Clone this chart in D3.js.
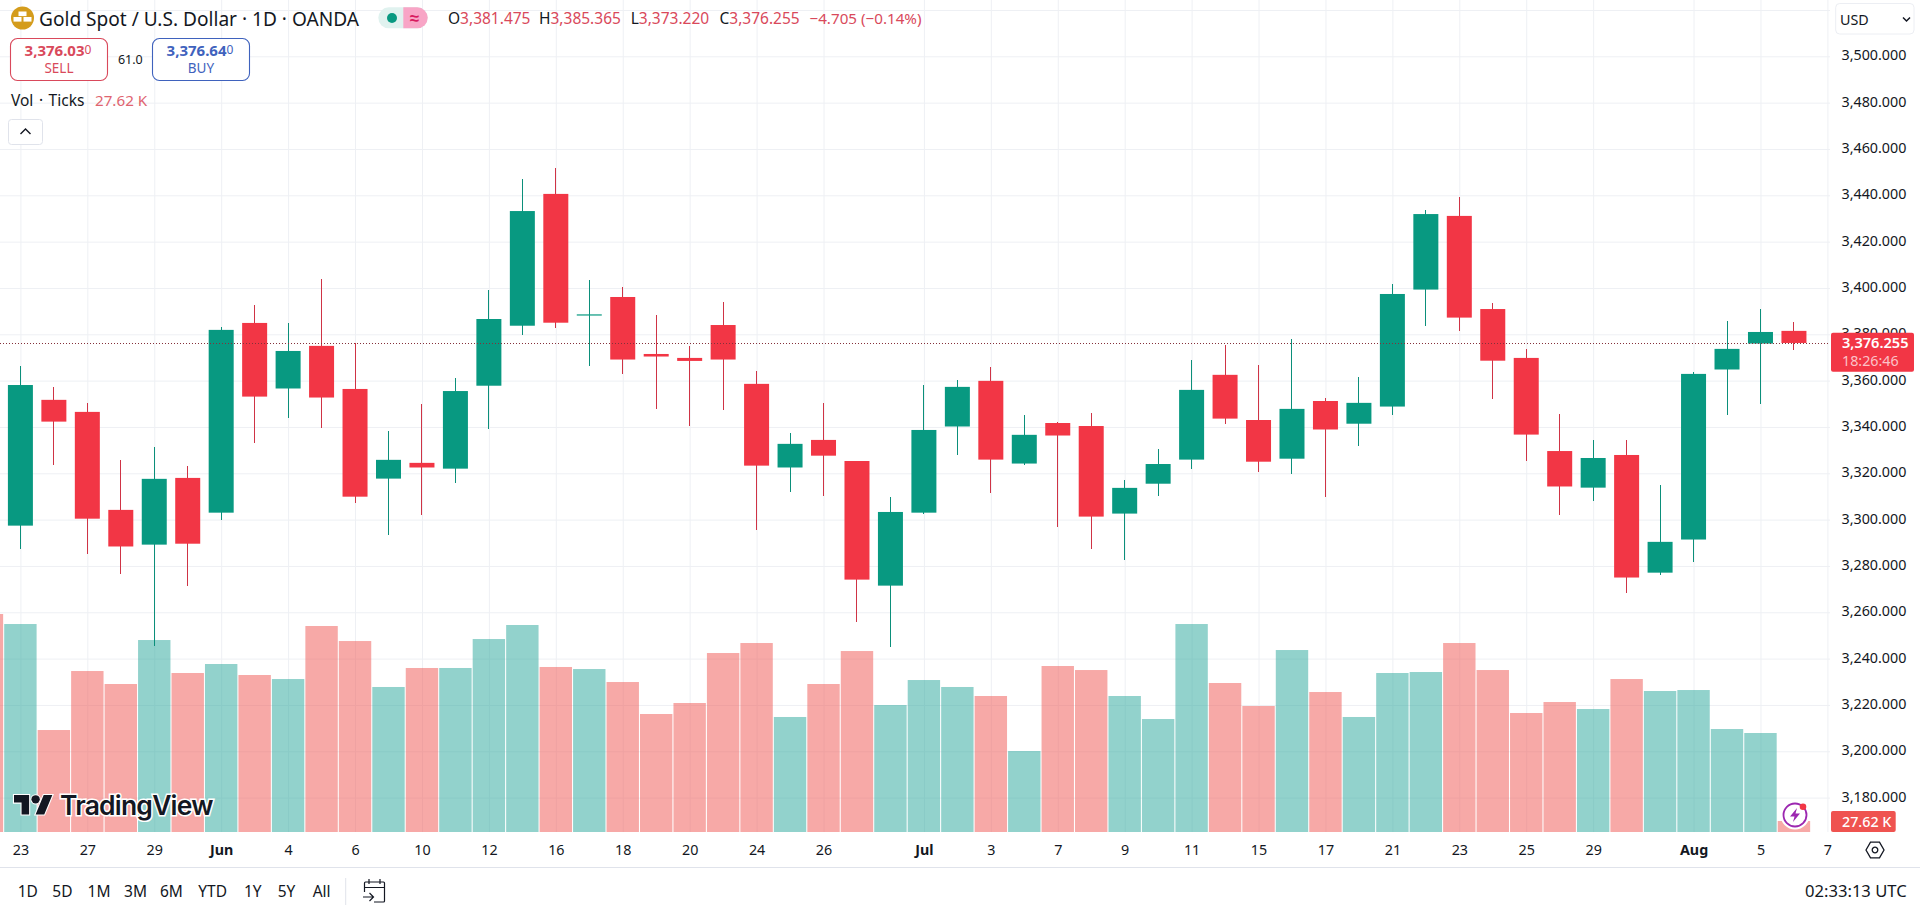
<!DOCTYPE html>
<html>
<head>
<meta charset="utf-8">
<title>Gold Spot / U.S. Dollar</title>
<script src="https://cdn.jsdelivr.net/npm/d3@7/dist/d3.min.js"></script>
<style>
html,body{margin:0;padding:0;background:#fff;overflow:hidden}
svg{display:block}
text{font-family:"Noto Sans",sans-serif;fill:#131722}
</style>
</head>
<body>
<script>
const sessions = ["05-22","05-23","05-26","05-27","05-28","05-29","05-30","06-02","06-03","06-04","06-05","06-06","06-09","06-10","06-11","06-12","06-13","06-16","06-17","06-18","06-19","06-20","06-23","06-24","06-25","06-26","06-27","06-30","07-01","07-02","07-03","07-04","07-07","07-08","07-09","07-10","07-11","07-14","07-15","07-16","07-17","07-18","07-21","07-22","07-23","07-24","07-25","07-28","07-29","07-30","07-31","08-01","08-04","08-05","08-06","08-07"];
const tickDates = ["05-23","05-27","05-29","06-02","06-04","06-06","06-10","06-12","06-16","06-18","06-20","06-24","06-26","07-01","07-03","07-07","07-09","07-11","07-15","07-17","07-21","07-23","07-25","07-29","08-01","08-05","08-07"];
const tickLabels = ["23","27","29","Jun","4","6","10","12","16","18","20","24","26","Jul","3","7","9","11","15","17","21","23","25","29","Aug","5","7"];
const priceTicks = [3180,3200,3220,3240,3260,3280,3300,3320,3340,3360,3380,3400,3420,3440,3460,3480,3500];
const priceGrid = priceTicks.concat([3520]);

const opens = [3297.4,3351.7,3346.5,3304.2,3289.2,3318.0,3303.0,3384.9,3356.6,3375.0,3356.4,3317.7,3324.5,3322.0,3357.8,3383.7,3440.6,3388.2,3396.1,3371.5,3369.8,3384.0,3358.6,3322.5,3334.4,3325.3,3271.5,3303.0,3340.2,3359.9,3324.2,3341.7,3340.4,3302.6,3315.5,3325.9,3362.5,3343.0,3326.3,3351.2,3341.4,3348.8,3399.3,3431.1,3390.9,3369.8,3329.6,3313.8,3327.9,3277.1,3291.4,3364.8,3376.0,3381.475];
const highs = [3366.3,3357.3,3350.4,3325.8,3331.4,3323.2,3383.2,3392.7,3384.9,3403.9,3376.3,3338.3,3349.8,3361.2,3399.1,3447.1,3451.8,3403.5,3400.4,3388.4,3375.0,3394.0,3364.2,3337.4,3350.4,3325.3,3309.8,3358.1,3360.3,3365.9,3345.2,3342.2,3346.1,3317.1,3330.5,3368.9,3375.4,3366.8,3378.0,3352.5,3361.6,3401.7,3433.7,3439.3,3393.5,3373.7,3345.6,3334.4,3334.4,3315.0,3363.7,3385.8,3390.9,3385.365];
const lows = [3287.5,3323.6,3285.3,3276.7,3245.6,3271.5,3300.0,3333.1,3344.0,3339.7,3307.3,3293.5,3302.2,3316.0,3338.9,3379.9,3382.9,3366.5,3363.0,3347.9,3340.4,3347.5,3295.7,3312.1,3310.4,3256.0,3244.8,3302.6,3328.1,3311.7,3323.7,3296.6,3287.5,3282.7,3310.4,3322.0,3341.4,3320.7,3319.9,3309.9,3331.9,3345.3,3383.7,3381.6,3351.9,3325.5,3302.2,3308.2,3268.5,3276.3,3281.9,3345.3,3350.1,3373.22];
const closes = [3358.1,3342.3,3300.4,3288.4,3317.6,3289.6,3381.9,3353.1,3372.8,3352.7,3309.9,3325.8,3322.5,3355.5,3386.6,3433.2,3385.0,3388.6,3369.1,3370.4,3368.5,3369.1,3323.3,3332.7,3327.6,3274.1,3303.3,3338.7,3357.3,3325.9,3336.6,3336.3,3301.3,3313.7,3324.0,3356.0,3343.6,3325.0,3347.8,3338.9,3350.4,3397.4,3431.9,3387.2,3368.6,3336.7,3314.3,3326.6,3275.0,3290.4,3362.9,3373.7,3381.0,3376.255];
// Volume (thousand ticks); first entry belongs to the session cut off at the left edge.
const volumes = [547.2,522.1,256.0,404.1,371.5,481.9,399.1,421.7,394.1,384.0,517.1,479.4,364.0,411.7,411.7,484.4,519.6,414.2,409.1,376.5,296.2,323.8,449.3,474.4,288.7,371.5,454.3,318.8,381.5,364.0,341.4,203.3,416.7,406.6,341.4,283.6,522.1,374.0,316.3,456.8,351.4,288.7,399.1,401.6,474.4,406.6,298.7,326.3,308.7,384.0,353.9,356.4,258.5,248.5,27.62];
const lastPrice = 3376.255;
const lastVolume = 27.62;
const rangeButtons = ["1D","5D","1M","3M","6M","YTD","1Y","5Y","All"];
const rangeCenters = [27.8,62.4,99,135.5,171.4,212.7,252.7,286.5,321.6];

const W = 1920, H = 912, paneRight = 1830, paneBottom = 832;
const UP = "#089981", DOWN = "#F23645", UPWICK = "#0b8f7a", DOWNWICK = "#cf3345", VUP = "rgba(38,166,154,0.5)", VDOWN = "rgba(239,83,80,0.5)", GRID = "#eef0f4";

const x = d3.scalePoint().domain(sessions).range([-13.06, 1827.4]);
const y = d3.scaleLinear().domain([3180, 3500]).range([797.6, 56.3]);
const yVol = d3.scaleLinear().domain([0, 550]).range([paneBottom, paneBottom - 219.1]);

const svg = d3.select("body").append("svg").attr("width", W).attr("height", H).attr("viewBox", `0 0 ${W} ${H}`);
svg.append("defs").append("clipPath").attr("id", "pane").append("rect").attr("width", paneRight).attr("height", paneBottom);

// Grid drawn with axes
const gridH = svg.append("g").attr("transform", `translate(${paneRight},0)`)
  .call(d3.axisLeft(y).tickValues(priceGrid).tickSize(paneRight).tickFormat(""));
const gridV = svg.append("g").attr("transform", `translate(0,${paneBottom})`)
  .call(d3.axisBottom(x).tickValues(tickDates).tickSize(-paneBottom).tickFormat(""));
[gridH, gridV].forEach(g => { g.select(".domain").remove(); g.selectAll("line").attr("stroke", GRID).attr("stroke-width", 1); });

const pane = svg.append("g").attr("clip-path", "url(#pane)");

// Volume
const barW = 32.4;
pane.append("g").selectAll("rect").data(volumes).join("rect")
  .attr("x", (d, i) => x(sessions[i]) - barW / 2)
  .attr("width", barW)
  .attr("y", d => yVol(d))
  .attr("height", d => paneBottom - yVol(d))
  .attr("fill", (d, i) => (i > 0 && closes[i - 1] >= opens[i - 1]) ? VUP : VDOWN);

// Candles
const candles = opens.map((o, i) => ({ s: sessions[i + 1], o, h: highs[i], l: lows[i], c: closes[i] }));
const bodyW = 25;
const cg = pane.append("g").selectAll("g").data(candles).join("g")
  .attr("fill", d => d.c >= d.o ? UP : DOWN);
cg.append("rect").attr("x", d => Math.round(x(d.s) - 0.5)).attr("width", 1)
  .attr("fill", d => d.c >= d.o ? UPWICK : DOWNWICK)
  .attr("shape-rendering", "crispEdges")
  .attr("y", d => y(d.h)).attr("height", d => y(d.l) - y(d.h));
cg.append("rect").attr("x", d => x(d.s) - bodyW / 2).attr("width", bodyW)
  .attr("y", d => y(Math.max(d.o, d.c)))
  .attr("height", d => Math.max(1.2, Math.abs(y(d.o) - y(d.c))));

// Last price dotted line
const lastY = Math.round(y(lastPrice)) + 0.5;
pane.append("line").attr("x1", 0).attr("x2", paneRight).attr("y1", lastY).attr("y2", lastY)
  .attr("stroke", "#84303a").attr("stroke-width", 1).attr("stroke-dasharray", "1 2");

// TradingView logo
const logo = svg.append("g");
logo.append("path").attr("transform", "translate(14,790.7) scale(1.08)")
  .attr("d", "M14 22H7V11H0V4h14v18zM28 22h-8l7.5-18h8L28 22z")
  .attr("fill", "#131722").attr("stroke", "#fff").attr("stroke-width", 2).attr("paint-order", "stroke");
logo.append("circle").attr("cx", 14 + 20 * 1.08).attr("cy", 790.7 + 8 * 1.08).attr("r", 4.2)
  .attr("fill", "#131722").attr("stroke", "#fff").attr("stroke-width", 2).attr("paint-order", "stroke");
logo.append("text").attr("x", 60).attr("y", 814.5).text("TradingView")
  .style("font-family", "Inter").style("font-weight", 600).style("font-size", "26.5px").style("letter-spacing", "-0.8px")
  .attr("stroke", "#fff").attr("stroke-width", 3).attr("paint-order", "stroke");

// Lightning badge
const bolt = svg.append("g").attr("transform", "translate(1795,815)");
bolt.append("circle").attr("r", 12.5).attr("fill", "#fff").attr("stroke", "#fff").attr("stroke-width", 4);
bolt.append("circle").attr("r", 11.5).attr("fill", "#fff").attr("stroke", "#9c27b0").attr("stroke-width", 1.8);
bolt.append("path").attr("d", "M2 -7 L-5 1.5 L-0.5 1.5 L-2 7 L5 -1.5 L0.5 -1.5 Z").attr("fill", "#9c27b0");
bolt.append("circle").attr("cx", 8).attr("cy", -8.3).attr("r", 3.3).attr("fill", "#F23645");

// Price axis
const priceAxis = svg.append("g").attr("transform", "translate(1841.5,-1)")
  .call(d3.axisRight(y).tickValues(priceTicks).tickSize(0).tickPadding(0).tickFormat(d3.format(",.3f")));
priceAxis.select(".domain").remove();
priceAxis.selectAll("text").style("font-size", "14.3px").style("font-family", '"Noto Sans",sans-serif').attr("fill", "#131722");

// Time axis
const timeAxis = svg.append("g").attr("transform", "translate(0,832)")
  .call(d3.axisBottom(x).tickValues(tickDates).tickSize(0).tickPadding(0).tickFormat(d => tickLabels[tickDates.indexOf(d)]));
timeAxis.select(".domain").remove();
timeAxis.selectAll("text").attr("y", 18).attr("dy", ".35em")
  .style("font-size", "14.3px").style("font-family", '"Noto Sans",sans-serif').attr("fill", "#131722")
  .style("font-weight", d => ["06-02","07-01","08-01"].includes(d) ? 700 : 400);

// Last price tag
const tag = svg.append("g");
tag.append("rect").attr("x", 1831).attr("y", 332.7).attr("width", 83).attr("height", 39).attr("rx", 2).attr("fill", DOWN);
tag.append("text").attr("x", 1842).attr("y", 347.8).text(d3.format(",.3f")(lastPrice))
  .style("font-size", "14.6px").style("font-weight", 600).style("fill", "#fff");
tag.append("text").attr("x", 1842).attr("y", 365.8).text("18:26:46")
  .style("font-size", "14.3px").style("fill", "#fbc3c8");
// Volume tag
tag.append("rect").attr("x", 1831).attr("y", 811).attr("width", 64.7).attr("height", 21).attr("rx", 2).attr("fill", "#EF5350");
tag.append("text").attr("x", 1842).attr("y", 826.5).text(lastVolume + " K")
  .style("font-size", "14.3px").style("font-weight", 500).style("fill", "#fff");

// Settings hexagon
const hex = svg.append("g").attr("transform", "translate(1875,850)");
hex.append("path").attr("d", "M-9 0 L-4.5 -7.8 L4.5 -7.8 L9 0 L4.5 7.8 L-4.5 7.8 Z").attr("fill", "none").attr("stroke", "#131722").attr("stroke-width", 1.3);
hex.append("circle").attr("r", 2.8).attr("fill", "none").attr("stroke", "#131722").attr("stroke-width", 1.3);

// Toolbar
svg.append("line").attr("x1", 0).attr("x2", W).attr("y1", 867.5).attr("y2", 867.5).attr("stroke", "#e0e3eb");
svg.append("g").selectAll("text").data(rangeButtons).join("text")
  .attr("x", (d, i) => rangeCenters[i]).attr("y", 896.7).attr("text-anchor", "middle")
  .style("font-size", "15.5px").text(d => d);
svg.append("line").attr("x1", 345.7).attr("x2", 345.7).attr("y1", 878).attr("y2", 905).attr("stroke", "#e0e3eb");
svg.append("path").attr("transform", "translate(362,879)")
  .attr("d", "M2.5 13 V4 Q2.5 3 3.5 3 H21.5 Q22.5 3 22.5 4 V22 Q22.5 23 21.5 23 H12 M2.5 8.5 H22.5 M7 0 V5 M18 0 V5 M1 18 H11 M7.5 14 L11.5 18 L7.5 22")
  .attr("fill", "none").attr("stroke", "#131722").attr("stroke-width", 1.2);
svg.append("text").attr("x", 1906.7).attr("y", 897).attr("text-anchor", "end").style("font-size", "16.6px").text("02:33:13 UTC");

// USD selector
svg.append("rect").attr("x", 1835.7).attr("y", 3.5).attr("width", 78.3).attr("height", 30.5).attr("rx", 4).attr("fill", "#fff").attr("stroke", "#eceef3");
svg.append("text").attr("x", 1840).attr("y", 25).style("font-size", "14.3px").text("USD");
svg.append("path").attr("d", "M1903 17.5 L1906.5 21 L1910 17.5").attr("fill", "none").attr("stroke", "#131722").attr("stroke-width", 1.5);

// Legend
const RED_TXT = "#d9495b";
const leg = svg.append("g");
leg.append("circle").attr("cx", 22.5).attr("cy", 18).attr("r", 11.5).attr("fill", "#d49c1c");
[[22.5,11.5,8],[17.5,17,8],[27.5,17,8]].forEach(b => leg.append("rect").attr("x", b[0]-b[2]/2).attr("y", b[1]).attr("width", b[2]).attr("height", 4.6).attr("fill", "#fff"));
leg.append("text").attr("x", 39).attr("y", 25.5).style("font-size", "19.1px").text("Gold Spot / U.S. Dollar · 1D · OANDA");
leg.append("rect").attr("x", 378.3).attr("y", 7.3).attr("width", 49.4).attr("height", 21).attr("rx", 10.5).attr("fill", "#e0f2ef");
leg.append("path").attr("d", "M403.3 7.3 H417.2 A10.5 10.5 0 0 1 417.2 28.3 H403.3 Z").attr("fill", "#f8a5c6");
leg.append("circle").attr("cx", 392).attr("cy", 18).attr("r", 5).attr("fill", UP);
leg.append("text").attr("x", 414.5).attr("y", 23.5).attr("text-anchor", "middle").style("font-size", "17px").style("font-weight", 700).style("fill", "#d81b60").text("≈");
const ohlc = [["O",448,opens[53]],["H",539,highs[53]],["L",630.7,lows[53]],["C",719.5,closes[53]]];
ohlc.forEach(o => {
  const t = leg.append("text").attr("x", o[1]).attr("y", 24).style("font-size", "15.5px");
  t.append("tspan").text(o[0]);
  t.append("tspan").style("fill", RED_TXT).text(d3.format(",.3f")(o[2]));
});
leg.append("text").attr("x", 809.5).attr("y", 24).style("font-size", "15.2px").style("fill", RED_TXT).text("−4.705 (−0.14%)");

function tradeBox(x0, w, color, whole, last, label) {
  leg.append("rect").attr("x", x0).attr("y", 38.5).attr("width", w).attr("height", 42).attr("rx", 7).attr("fill", "#fff").attr("stroke", color).attr("stroke-width", 1.1);
  const t = leg.append("text").attr("x", x0 + w / 2 - 1).attr("y", 56).attr("text-anchor", "middle").style("fill", color);
  t.append("tspan").style("font-size", "15px").style("font-weight", 700).style("fill", color).text(whole);
  t.append("tspan").style("font-size", "12px").attr("dy", -2).style("fill", color).text(last);
  leg.append("text").attr("x", x0 + w / 2).attr("y", 73).attr("text-anchor", "middle").style("font-size", "13.5px").style("fill", color).text(label);
}
tradeBox(10.5, 97, "#d9495b", "3,376.03", "0", "SELL");
tradeBox(152.5, 97, "#3f62bd", "3,376.64", "0", "BUY");
leg.append("text").attr("x", 130.3).attr("y", 63.5).attr("text-anchor", "middle").style("font-size", "12.5px").text("61.0");
leg.append("text").attr("x", 11).attr("y", 106).style("font-size", "15.5px").style("word-spacing", "1.5px").text("Vol · Ticks");
leg.append("text").attr("x", 95).attr("y", 106).style("font-size", "15.2px").style("fill", "#e06470").text(lastVolume + " K");
leg.append("rect").attr("x", 8.5).attr("y", 119.5).attr("width", 34).attr("height", 25).attr("rx", 3).attr("fill", "#fff").attr("stroke", "#e0e3eb");
leg.append("path").attr("d", "M20.5 134 L25.5 129 L30.5 134").attr("fill", "none").attr("stroke", "#131722").attr("stroke-width", 1.4);
</script>
</body>
</html>
